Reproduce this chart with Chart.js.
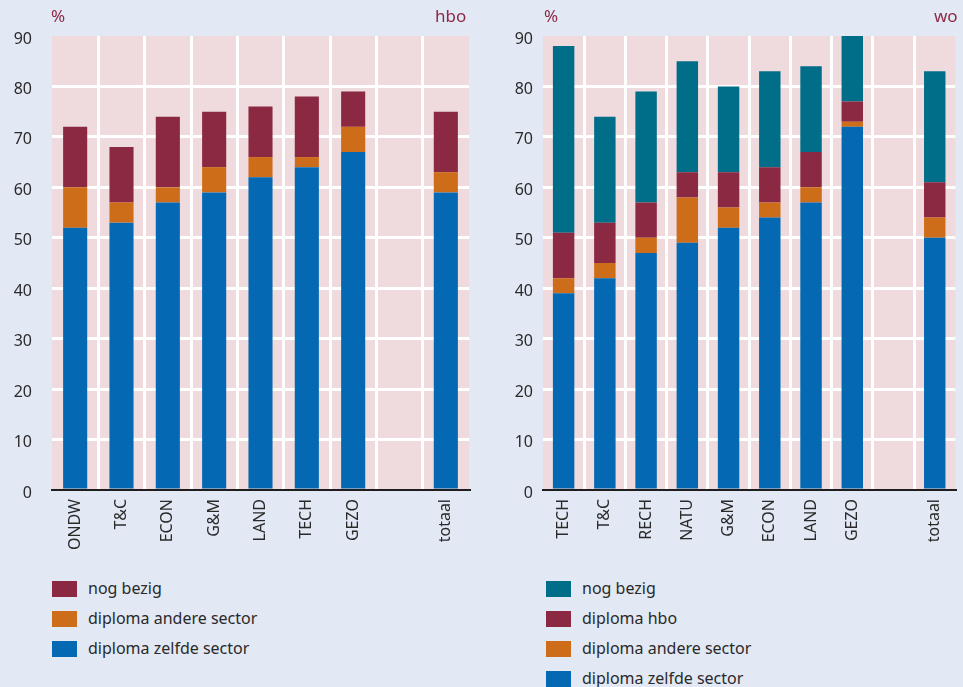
<!DOCTYPE html>
<html>
<head>
<meta charset="utf-8">
<script src="https://cdn.jsdelivr.net/npm/chart.js@4.4.1/dist/chart.umd.min.js"></script>
<style>
    body { margin: 0; background: #e2e8f4; font-family: "Noto Sans", sans-serif; }
    #wrapper { position: relative; width: 963px; height: 687px; overflow: hidden; }
    .paneel { position: absolute; top: 0; height: 560px; }
    .kop { position: absolute; top: 4px; font-size: 17px; color: #8d2a47; }
    .legenda { position: absolute; top: 578px; font-size: 16px; color: #2a2a2a; }
    .legenda div { height: 30px; line-height: 20px; }
    .legenda span { display: inline-block; width: 25px; height: 16px; vertical-align: -3px; margin-right: 11px; }
</style>
</head>
<body>
<div id="wrapper">
    <div class="paneel" style="left:0;width:480px"><canvas id="canvas1" width="480" height="560"></canvas></div>
    <div class="paneel" style="left:480px;width:483px"><canvas id="canvas2" width="483" height="560"></canvas></div>
    <div class="kop" style="left:51px">%</div>
    <div class="kop" style="left:435px">hbo</div>
    <div class="kop" style="left:544px">%</div>
    <div class="kop" style="left:934px">wo</div>
    <div class="legenda" id="legenda1" style="left:52px"></div>
    <div class="legenda" id="legenda2" style="left:546px"></div>
</div>
<script>
"use strict"

// hbo
const hboLabels = ["ONDW", "T&C", "ECON", "G&M", "LAND", "TECH", "GEZO", "", "totaal"];
const hboZelfde = [52, 53, 57, 59, 62, 64, 67, null, 59];
const hboAndere = [8, 4, 3, 5, 4, 2, 5, null, 4];
const hboBezig = [12, 11, 14, 11, 10, 12, 7, null, 12];

// wo
const woLabels = ["TECH", "T&C", "RECH", "NATU", "G&M", "ECON", "LAND", "GEZO", "", "totaal"];
const woZelfde = [39, 42, 47, 49, 52, 54, 57, 72, null, 50];
const woAndere = [3, 3, 3, 9, 4, 3, 3, 1, null, 4];
const woHbo = [9, 8, 7, 5, 7, 7, 7, 4, null, 7];
const woBezig = [37, 21, 22, 22, 17, 19, 17, 15, null, 22];

const yTicks = [0, 10, 20, 30, 40, 50, 60, 70, 80, 90];

const BLAUW = "#0468b2";
const ORANJE = "#cd6d19";
const ROOD = "#8b2842";
const PETROL = "#006e88";
const ROZE = "#efdbde";

// roze achtergrond van het plotvlak
const plotAchtergrond = {
    id: "plotAchtergrond",
    beforeDraw(chart) {
        let a = chart.chartArea;
        let ctx = chart.ctx;
        ctx.save();
        ctx.fillStyle = ROZE;
        ctx.fillRect(a.left, a.top, a.right - a.left, a.bottom - a.top);
        ctx.restore();
    }
};

function maakOpties(yBreedte, yPadding, rechts) {
    return {
        responsive: false,
        devicePixelRatio: 1,
        animation: false,
        layout: { padding: { top: 36, right: rechts, left: 0, bottom: 0 } },
        plugins: { legend: { display: false }, tooltip: { enabled: false } },
        scales: {
            x: {
                stacked: true,
                afterFit: s => { s.height = 70; },
                border: { display: true, color: "#1e1e1e", width: 2, z: 1 },
                grid: {
                    offset: true,
                    drawTicks: false,
                    lineWidth: 3,
                    color: c => (c.type !== "tick" || c.index === 0) ? "rgba(0,0,0,0)" : "#ffffff"
                },
                ticks: {
                    autoSkip: false,
                    minRotation: 90,
                    maxRotation: 90,
                    padding: 9,
                    color: "#2a2a2a",
                    font: { family: "Noto Sans", size: 16 }
                }
            },
            y: {
                stacked: true,
                min: 0,
                max: 90,
                afterFit: s => { s.width = yBreedte; },
                afterBuildTicks: s => { s.ticks = yTicks.map(v => ({ value: v })); },
                border: { display: false },
                grid: {
                    drawTicks: false,
                    lineWidth: 3,
                    color: c => (c.tick && c.tick.value > 0 && c.tick.value < 90) ? "#ffffff" : "rgba(0,0,0,0)"
                },
                ticks: {
                    padding: yPadding,
                    labelOffset: 3,
                    color: "#2a2a2a",
                    font: { family: "Noto Sans", size: 16 }
                }
            }
        }
    };
}

function maakSet(label, data, kleur) {
    return {
        label: label,
        data: data,
        backgroundColor: kleur,
        borderWidth: 0,
        barPercentage: 0.52,
        categoryPercentage: 1
    };
}

function vulLegenda(id, sets) {
    let box = document.getElementById(id);
    sets.slice().reverse().forEach(s => {
        let rij = document.createElement("div");
        let blok = document.createElement("span");
        blok.style.background = s.backgroundColor;
        rij.appendChild(blok);
        rij.appendChild(document.createTextNode(s.label));
        box.appendChild(rij);
    });
}

document.addEventListener("DOMContentLoaded", function () {
    let hboSets = [
        maakSet("diploma zelfde sector", hboZelfde, BLAUW),
        maakSet("diploma andere sector", hboAndere, ORANJE),
        maakSet("nog bezig", hboBezig, ROOD)
    ];
    let woSets = [
        maakSet("diploma zelfde sector", woZelfde, BLAUW),
        maakSet("diploma andere sector", woAndere, ORANJE),
        maakSet("diploma hbo", woHbo, ROOD),
        maakSet("nog bezig", woBezig, PETROL)
    ];

    new Chart(document.getElementById("canvas1"), {
        type: "bar",
        data: { labels: hboLabels, datasets: hboSets },
        options: maakOpties(52, 20, 11),
        plugins: [plotAchtergrond]
    });

    new Chart(document.getElementById("canvas2"), {
        type: "bar",
        data: { labels: woLabels, datasets: woSets },
        options: maakOpties(63, 10, 1),
        plugins: [plotAchtergrond]
    });

    vulLegenda("legenda1", hboSets);
    vulLegenda("legenda2", woSets);
});
</script>
</body>
</html>
